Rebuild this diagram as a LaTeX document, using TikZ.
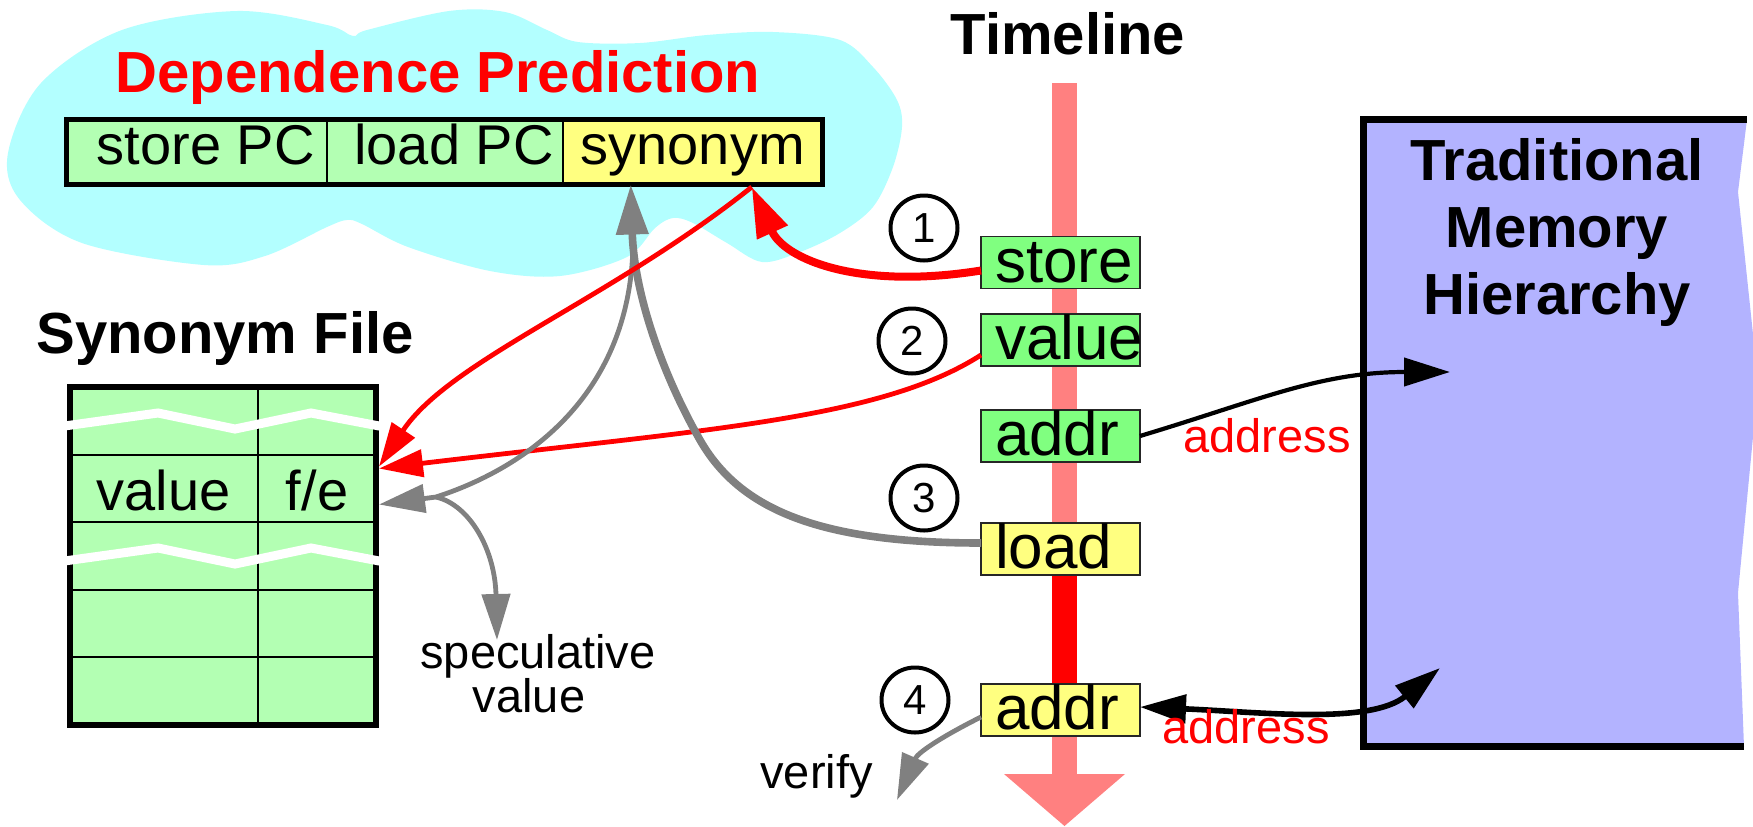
\documentclass[tikz,border=0pt]{standalone}
\usepackage{fontspec}
\setmainfont{Liberation Sans}
\usetikzlibrary{arrows.meta,shapes.geometric,calc}

\definecolor{cloudc}{HTML}{B3FFFF}
\definecolor{cellg}{HTML}{B3FFB3}
\definecolor{celly}{HTML}{FFFF80}
\definecolor{tgreen}{HTML}{80FF80}
\definecolor{memc}{HTML}{B3B3FF}
\definecolor{barc}{HTML}{FF8080}
\definecolor{redc}{HTML}{FF0000}
\definecolor{grayc}{HTML}{808080}

\tikzset{blktip/.tip={Triangle[length=23pt,width=14pt]}}

\begin{document}
\begin{tikzpicture}[x=0.5pt,y=-0.5pt,
  tcell/.style={draw=black, line width=0.75pt, inner sep=0pt, outer sep=0pt,
    minimum height=32.5pt, text height=12pt, text depth=0pt,
    font=\fontsize{28}{32}\selectfont},
  fcell/.style={draw=black, line width=0.75pt, fill=cellg, inner sep=0pt, outer sep=0pt,
    minimum height=33.5pt, text height=21.5pt, text depth=0pt,
    font=\fontsize{28}{32}\selectfont},
  tbox/.style={draw=black!85, line width=0.75pt, outer sep=0pt, inner ysep=0pt, inner xsep=7pt,
    minimum width=79.5pt, minimum height=26pt, text width=65.5pt, align=left,
    text height=19.5pt, text depth=0pt, font=\fontsize{31}{34}\selectfont},
  circ/.style={draw=black, ellipse, line width=2pt, inner sep=0pt,
    minimum width=33.5pt, minimum height=32.5pt, font=\fontsize{21}{24}\selectfont},
  heading/.style={font=\bfseries\fontsize{29}{33.5}\selectfont, inner sep=0pt},
  lbl/.style={font=\fontsize{23.5}{26}\selectfont, inner sep=0pt},
  redthick/.style={draw=redc, line width=4pt, -{Triangle[length=25pt,width=16pt]}},
  redthin/.style={draw=redc, line width=2.4pt, -{Triangle[length=22pt,width=13.5pt]}},
  graythick/.style={draw=grayc, line width=3.8pt, -{Triangle[length=25pt,width=15.5pt]}},
  graythin/.style={draw=grayc, line width=2.4pt},
  graytip/.style={-{Triangle[length=23pt,width=14pt]}},
  blkline/.style={draw=black, line width=2.1pt}
]
\useasboundingbox (0,0) rectangle (1753,826);

% cloud behind the predictor table
\fill[cloudc] plot[smooth cycle, tension=0.55] coordinates {
  (8,153) (41,83) (122,30) (237,11) (327,25) (353,36) (367,30) (449,11)
  (505,12) (547,30) (578,42) (640,43) (707,35) (773,32) (840,40) (873,67)
  (897,100) (902,127) (893,167) (873,207) (840,233) (800,252) (762,262)
  (727,243) (693,223) (673,218) (655,228) (627,257) (560,276) (490,271)
  (408,247) (362,224) (347,220) (327,227) (265,256) (204,265) (82,243) (20,200)};

% dependence predictor table
\node[heading, text=redc, anchor=base] (dptitle) at (438,92) {Dependence Prediction};
\node[tcell, fill=cellg, minimum width=130.25pt] (spc) at (196.75,152) {\hspace{9pt}store PC};
\node[tcell, fill=cellg, minimum width=118pt] (lpc) at (445,152) {\hspace{9pt}load PC};
\node[tcell, fill=celly, minimum width=129.75pt] (syn) at (692.75,152) {synonym};
\draw[line width=2.5pt] (spc.north west) rectangle (syn.south east);

% synonym file
\node[heading, anchor=base] (sftitle) at (225,353) {Synonym File};
\fill[cellg] (69.5,387) rectangle (376,725);
\draw[line width=0.75pt] (258,387) -- (258,725)
  (69.5,590) -- (376,590) (69.5,657) -- (376,657);
\node[fcell, minimum width=94.25pt] (fv) at (163.75,488.5) {value};
\node[fcell, minimum width=59pt] (fe) at (317,488.5) {f/e};
\draw[line width=3pt] (69.5,387) rectangle (376,725);
\begin{scope}
  \clip (66.5,380) rectangle (379,740);
  \draw[white, line width=4.5pt, line join=miter]
    (50,428) -- (158,413) -- (235,429) -- (311,413) -- (395,429);
  \draw[white, line width=4.5pt, line join=miter]
    (50,563) -- (158,548) -- (235,564) -- (311,548) -- (395,564);
\end{scope}

% timeline
\node[heading, anchor=base] (tltitle) at (1068,54) {Timeline};
\fill[barc] (1052,83) rectangle (1077,776);
\fill[barc] (1004,774) -- (1125,774) -- (1064.5,826) -- cycle;
\fill[redc] (1052,575) rectangle (1077,684);

% memory hierarchy
\fill[memc] (1363.5,119.5) -- (1747,119.5) -- (1738,192) -- (1753,334) -- (1753,437)
  -- (1738,593) -- (1744,746.5) -- (1363.5,746.5) -- cycle;
\draw[line width=3.5pt] (1747,119.5) -- (1363.5,119.5) -- (1363.5,746.5) -- (1744,746.5);
\node[heading, align=center, anchor=north] (memtitle) at (1557,138.5)
  {Traditional\\Memory\\Hierarchy};
\coordinate (memA) at (1450,372);
\coordinate (memB) at (1440,668);

% timeline events
\node[tbox, fill=tgreen] (tstore) at (1060.5,262.5) {store};
\node[tbox, fill=tgreen] (tvalue) at (1060.5,340) {value};
\node[tbox, fill=tgreen] (taddr) at (1060.5,436) {addr};
\node[tbox, fill=celly] (tload) at (1060.5,549) {load};
\node[tbox, fill=celly] (taddrb) at (1060.5,710) {addr};

\node[circ] (c1) at (924,228) {1};
\node[circ] (c2) at (912,341) {2};
\node[circ] (c3) at (924,498) {3};
\node[circ] (c4) at (915,700) {4};

% connectors
\coordinate (synin) at ($(syn.south)+(59,2.5)$);
\coordinate (fork) at (633,245);
\coordinate (jn) at (436,497);
\coordinate (spectip) at (497,640);
\coordinate (vertip) at (897,800);

\draw[redthin] ([yshift=-7.5pt]tvalue.west) .. controls (880,420) and (700,430) .. ($(fe.east)+(3,-20)$);
\draw[graythick] ([yshift=3pt]tload.west) .. controls (820,543) and (740,510) .. (700,440)
  .. controls (660,370) and (634,290) .. ($(syn.south)+(-62,0)$);
\draw[graythin, graytip] (fork) .. controls (630,400) and (520,470) .. (jn) -- ($(fe.east)+(3,16)$);
\draw[graythin, graytip] (jn) .. controls (470,505) and (495,550) .. (spectip);
\draw[redthin] (synin) .. controls (610,300) and (450,360) .. ($(fe.east)+(3,-22)$);
\draw[redthick] ([yshift=-4pt]tstore.west) .. controls (860,290) and (785,260) .. (synin);

\draw[graythin, graytip] ([yshift=-3.5pt]taddrb.west) .. controls (945,735) and (918,752) .. (vertip);

\draw[blkline, -{blktip}] (taddr.east) .. controls (1260,400) and (1320,372) .. (memA);
\draw[blkline, line width=2.8pt, {blktip}-{blktip}] ([yshift=1.5pt]taddrb.east)
  .. controls (1260,712) and (1370,725) .. (memB);

% labels
\node[lbl, text=redc, anchor=base west] (addrlblA) at (1183,452) {address};
\node[lbl, text=redc, anchor=base west] (addrlblB) at (1162,743) {address};
\node[lbl, anchor=base west] (verlbl) at (760,788) {verify};
\node[lbl, anchor=base] (speclblA) at (538,668) {speculative};
\node[lbl, anchor=base] (speclblB) at (529,712) {value};
\end{tikzpicture}
\end{document}
